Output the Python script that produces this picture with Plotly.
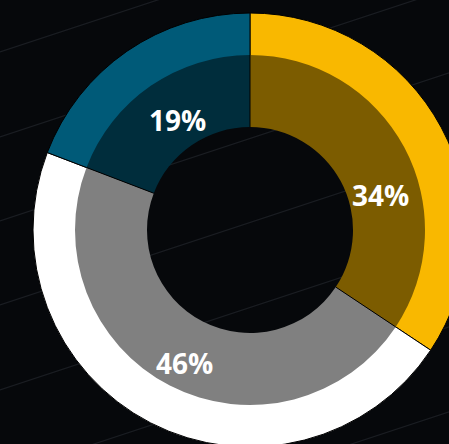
import math
import plotly.graph_objects as go

# Share of respondents per group
groups = ["Group A", "Group B", "Group C"]
shares = [34, 46, 19]
ring_colors = ["#F9B800", "#FFFFFF", "#005A78"]
inner_colors = ["#7C5C00", "#808080", "#002D3C"]

W, H = 500, 460
CX, CY = 250, 230          # pie centre in pixels from top-left
R_OUT, R_MID, R_HOLE = 217, 175, 103


def dom(r):
    return dict(x=[(CX - r) / W, (CX + r) / W],
                y=[1 - (CY + r) / H, 1 - (CY - r) / H])


def to_paper(px, py):
    return px / W, 1 - py / H


fig = go.Figure()

# Outer bright ring
fig.add_trace(go.Pie(
    labels=groups, values=shares, sort=False, direction="clockwise",
    rotation=0, hole=(R_MID - 3) / R_OUT, domain=dom(R_OUT),
    marker=dict(colors=ring_colors, line=dict(color="#000000", width=1)),
    textinfo="none", hoverinfo="label+percent", showlegend=False,
))

# Inner darker ring
fig.add_trace(go.Pie(
    labels=groups, values=shares, sort=False, direction="clockwise",
    rotation=0, hole=R_HOLE / R_MID, domain=dom(R_MID),
    marker=dict(colors=inner_colors, line=dict(width=0)),
    textinfo="none", hoverinfo="label+percent", showlegend=False,
))

shapes = []

# Faint diagonal background strokes
for y0 in [52, 137, 221, 305, 390, 475, 560, 645]:
    shapes.append(dict(
        type="line", xref="paper", yref="paper", layer="below",
        x0=0, y0=1 - y0 / H, x1=1, y1=1 - (y0 - 0.33 * W) / H,
        line=dict(color="#1A1D22", width=1.2),
    ))

# Slice separators across the inner ring, at the cumulative share boundaries
total = sum(shares)
cum = 0
for v in shares:
    theta = 2 * math.pi * cum / total
    x0, y0 = to_paper(CX + R_HOLE * math.sin(theta), CY - R_HOLE * math.cos(theta))
    x1, y1 = to_paper(CX + R_MID * math.sin(theta), CY - R_MID * math.cos(theta))
    shapes.append(dict(type="line", xref="paper", yref="paper", layer="above",
                       x0=x0, y0=y0, x1=x1, y1=y1,
                       line=dict(color="#000000", width=1)))
    cum += v

# Percentage labels
label_pos = [(380, 195), (184, 363), (177, 120)]
for v, (px, py) in zip(shares, label_pos):
    x, y = to_paper(px, py)
    fig.add_annotation(
        x=x, y=y, xref="paper", yref="paper",
        text=f"{v}%", showarrow=False, xanchor="center", yanchor="middle",
        font=dict(family="Open Sans", size=28, color="#FFFFFF", weight=700),
    )

fig.update_layout(
    width=W, height=H,
    margin=dict(l=0, r=0, t=0, b=0),
    paper_bgcolor="#06080B", plot_bgcolor="#06080B",
    shapes=shapes,
)

fig.write_html(
    "out.html",
    post_script="document.body.style.margin='0';document.body.style.overflow='hidden';"
                "document.documentElement.style.overflow='hidden';",
)
